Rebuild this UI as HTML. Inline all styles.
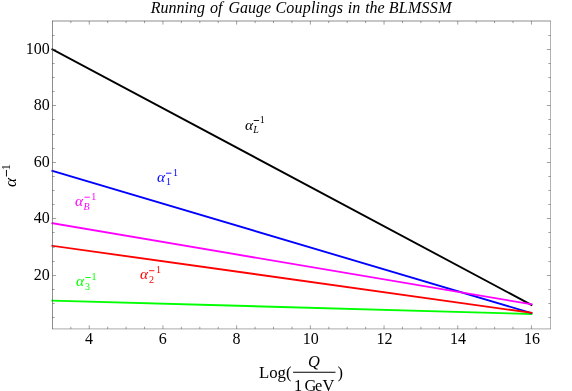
<!DOCTYPE html>
<html><head><meta charset="utf-8"><style>
html,body{margin:0;padding:0;background:#fff}
body{width:572px;height:391px;position:relative;overflow:hidden;will-change:transform;font-family:"Liberation Serif",serif;color:#000}
.title{position:absolute;left:0;width:599.8px;top:-2px;text-align:center;font-style:italic;font-size:16px;line-height:20px;white-space:nowrap;word-spacing:1.15px}
.xt{position:absolute;top:329px;width:40px;text-align:center;font-size:16px;line-height:20px}
.yt{position:absolute;left:0;width:49.8px;text-align:right;font-size:16px;line-height:20px}
.t{position:absolute;white-space:nowrap;line-height:20px;display:block}
.i{font-style:italic}
.title span{position:absolute;top:0}
</style></head><body>
<svg width="572" height="391" viewBox="0 0 572 391" style="position:absolute;left:0;top:0">
<polyline points="52.40,300.56 531.45,314.01" fill="none" stroke="#00ff00" stroke-width="1.85" stroke-linecap="square"/>
<polyline points="52.40,170.87 531.45,313.11" fill="none" stroke="#0000ff" stroke-width="1.85" stroke-linecap="square"/>
<polyline points="52.40,245.81 531.45,312.82" fill="none" stroke="#ff0000" stroke-width="1.85" stroke-linecap="square"/>
<polyline points="52.40,49.25 531.45,304.91" fill="none" stroke="#000000" stroke-width="1.85" stroke-linecap="square"/>
<polyline points="52.40,223.27 531.45,304.29" fill="none" stroke="#ff00ff" stroke-width="1.85" stroke-linecap="square"/>
<g stroke="#404040" stroke-width="0.5" fill="none">
<path d="M52.5 20.7 V329.09999999999997" stroke-width="0.6"/>
<path d="M52.2 21.0 H550.7" stroke-width="0.6"/>
<path d="M550.5 20.7 V329.09999999999997" stroke-width="0.4"/>
<path d="M52.2 328.9 H550.7" stroke-width="0.45"/>
<path d="M70.83 328.9 v-2.15 M70.83 21.0 v2.15"/>
<path d="M89.25 328.9 v-3.6 M89.25 21.0 v3.6"/>
<path d="M107.68 328.9 v-2.15 M107.68 21.0 v2.15"/>
<path d="M126.10 328.9 v-2.15 M126.10 21.0 v2.15"/>
<path d="M144.53 328.9 v-2.15 M144.53 21.0 v2.15"/>
<path d="M162.95 328.9 v-3.6 M162.95 21.0 v3.6"/>
<path d="M181.38 328.9 v-2.15 M181.38 21.0 v2.15"/>
<path d="M199.80 328.9 v-2.15 M199.80 21.0 v2.15"/>
<path d="M218.23 328.9 v-2.15 M218.23 21.0 v2.15"/>
<path d="M236.65 328.9 v-3.6 M236.65 21.0 v3.6"/>
<path d="M255.08 328.9 v-2.15 M255.08 21.0 v2.15"/>
<path d="M273.50 328.9 v-2.15 M273.50 21.0 v2.15"/>
<path d="M291.93 328.9 v-2.15 M291.93 21.0 v2.15"/>
<path d="M310.35 328.9 v-3.6 M310.35 21.0 v3.6"/>
<path d="M328.77 328.9 v-2.15 M328.77 21.0 v2.15"/>
<path d="M347.20 328.9 v-2.15 M347.20 21.0 v2.15"/>
<path d="M365.62 328.9 v-2.15 M365.62 21.0 v2.15"/>
<path d="M384.05 328.9 v-3.6 M384.05 21.0 v3.6"/>
<path d="M402.47 328.9 v-2.15 M402.47 21.0 v2.15"/>
<path d="M420.90 328.9 v-2.15 M420.90 21.0 v2.15"/>
<path d="M439.32 328.9 v-2.15 M439.32 21.0 v2.15"/>
<path d="M457.75 328.9 v-3.6 M457.75 21.0 v3.6"/>
<path d="M476.18 328.9 v-2.15 M476.18 21.0 v2.15"/>
<path d="M494.60 328.9 v-2.15 M494.60 21.0 v2.15"/>
<path d="M513.02 328.9 v-2.15 M513.02 21.0 v2.15"/>
<path d="M531.45 328.9 v-3.6 M531.45 21.0 v3.6"/>
<path d="M52.5 317.5 h2.15 M550.5 317.5 h-2.15"/>
<path d="M52.5 303.5 h2.15 M550.5 303.5 h-2.15"/>
<path d="M52.5 289.5 h2.15 M550.5 289.5 h-2.15"/>
<path d="M52.5 275.5 h3.6 M550.5 275.5 h-3.6"/>
<path d="M52.5 261.5 h2.15 M550.5 261.5 h-2.15"/>
<path d="M52.5 247.5 h2.15 M550.5 247.5 h-2.15"/>
<path d="M52.5 232.5 h2.15 M550.5 232.5 h-2.15"/>
<path d="M52.5 218.5 h3.6 M550.5 218.5 h-3.6"/>
<path d="M52.5 204.5 h2.15 M550.5 204.5 h-2.15"/>
<path d="M52.5 190.5 h2.15 M550.5 190.5 h-2.15"/>
<path d="M52.5 176.5 h2.15 M550.5 176.5 h-2.15"/>
<path d="M52.5 162.5 h3.6 M550.5 162.5 h-3.6"/>
<path d="M52.5 148.5 h2.15 M550.5 148.5 h-2.15"/>
<path d="M52.5 134.5 h2.15 M550.5 134.5 h-2.15"/>
<path d="M52.5 119.5 h2.15 M550.5 119.5 h-2.15"/>
<path d="M52.5 105.5 h3.6 M550.5 105.5 h-3.6"/>
<path d="M52.5 91.5 h2.15 M550.5 91.5 h-2.15"/>
<path d="M52.5 77.5 h2.15 M550.5 77.5 h-2.15"/>
<path d="M52.5 63.5 h2.15 M550.5 63.5 h-2.15"/>
<path d="M52.5 49.5 h3.6 M550.5 49.5 h-3.6"/>
<path d="M52.5 35.5 h2.15 M550.5 35.5 h-2.15"/>
</g>
<path d="M293.1 372.25 H335.5" stroke="#000" stroke-width="1"/>
<path d="M253.70 120.50 h5.4" stroke="#000000" stroke-width="0.9"/>
<path d="M166.00 173.20 h5.4" stroke="#0000ff" stroke-width="0.9"/>
<path d="M84.40 197.20 h5.4" stroke="#ff00ff" stroke-width="0.9"/>
<path d="M149.00 270.70 h5.4" stroke="#ff0000" stroke-width="0.9"/>
<path d="M85.30 277.50 h5.4" stroke="#00ff00" stroke-width="0.9"/>
<path d="M6.45 169.9 V176.5" stroke="#000" stroke-width="0.95"/>
</svg>
<div class="title"><span style="left:150.70px">Running</span> <span style="left:209.88px">of</span> <span style="left:228.49px">Gauge</span> <span style="left:275.50px;letter-spacing:0.2px">Couplings</span> <span style="left:347.75px;letter-spacing:0.1px">in</span> <span style="left:365.16px">the</span> <span style="left:388.67px;letter-spacing:0.3px">BLMSSM</span></div>
<div class="xt" style="left:69.0px">4</div><div class="xt" style="left:142.8px">6</div><div class="xt" style="left:216.5px">8</div><div class="xt" style="left:290.7px">10</div><div class="xt" style="left:364.4px">12</div><div class="xt" style="left:438.1px">14</div><div class="xt" style="left:511.9px">16</div><div class="yt" style="top:265px">20</div><div class="yt" style="top:208px">40</div><div class="yt" style="top:152px">60</div><div class="yt" style="top:95px">80</div><div class="yt" style="top:39px">100</div>
<span class="t i" style="left:244.70px;top:116px;font-size:14px;color:#000000;transform:scaleX(1.1);transform-origin:0 0;">α</span><span class="t i" style="left:253.30px;top:120px;font-size:10px;color:#000000;">L</span><span class="t " style="left:259.70px;top:110px;font-size:10px;color:#000000;">1</span><span class="t i" style="left:157.00px;top:168px;font-size:14px;color:#0000ff;transform:scaleX(1.1);transform-origin:0 0;">α</span><span class="t " style="left:166.00px;top:172px;font-size:10px;color:#0000ff;">1</span><span class="t " style="left:173.00px;top:163px;font-size:10px;color:#0000ff;">1</span><span class="t i" style="left:75.40px;top:192px;font-size:14px;color:#ff00ff;transform:scaleX(1.1);transform-origin:0 0;">α</span><span class="t i" style="left:83.60px;top:197px;font-size:10px;color:#ff00ff;">B</span><span class="t " style="left:91.30px;top:187px;font-size:10px;color:#ff00ff;">1</span><span class="t i" style="left:140.00px;top:265px;font-size:14px;color:#ff0000;transform:scaleX(1.1);transform-origin:0 0;">α</span><span class="t " style="left:149.00px;top:270px;font-size:10px;color:#ff0000;">2</span><span class="t " style="left:156.00px;top:260px;font-size:10px;color:#ff0000;">1</span><span class="t i" style="left:76.30px;top:272px;font-size:14px;color:#00ff00;transform:scaleX(1.1);transform-origin:0 0;">α</span><span class="t " style="left:84.90px;top:277px;font-size:10px;color:#00ff00;">3</span><span class="t " style="left:91.60px;top:267px;font-size:10px;color:#00ff00;">1</span>
<span class="t " style="left:258.90px;top:363px;font-size:16.8px;">Log(</span><span class="t " style="left:337.50px;top:363px;font-size:16.4px;">)</span><span class="t i" style="left:308.00px;top:352px;font-size:16.4px;">Q</span><span class="t " style="left:294.10px;top:376px;font-size:16.4px;">1</span><span class="t " style="left:304.40px;top:376px;font-size:16.4px;">G</span><span class="t " style="left:315.00px;top:376px;font-size:16.4px;">e</span><span class="t " style="left:322.60px;top:376px;font-size:16.4px;">V</span>
<div style="position:absolute;left:16.3px;top:186.8px;width:0;height:0;transform:rotate(-90deg);transform-origin:0 0"><span class="t i" style="left:0.00px;top:-15.00px;font-size:16.4px;transform:scaleX(1.06);transform-origin:0 0;">α</span><span class="t " style="left:16.70px;top:-20.10px;font-size:12.3px;">1</span></div>
</body></html>
